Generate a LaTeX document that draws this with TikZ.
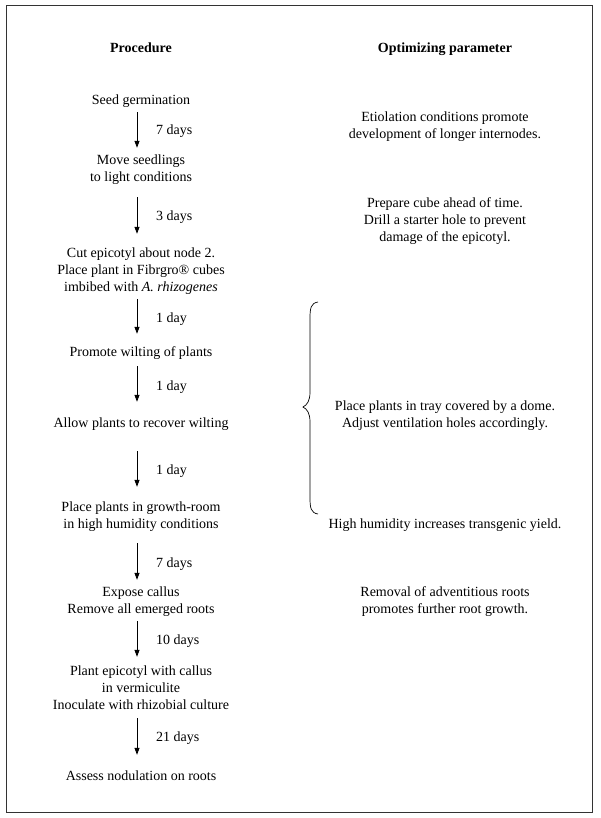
\documentclass[tikz,border=0pt]{standalone}
\usepackage{fontspec}
\setmainfont{Liberation Serif}
\usetikzlibrary{arrows.meta}
\begin{document}
\begin{tikzpicture}[x=1pt,y=-1pt,
  txt/.style={font=\fontsize{14}{17}\selectfont, inner sep=0pt, text height=9.6pt, text depth=3pt, anchor=base},
  hdr/.style={txt, font=\fontsize{14}{17}\selectfont\bfseries},
  day/.style={txt, anchor=base west},
  arr/.style={-{Triangle[length=7pt,width=5pt]}, line width=0.8pt},
  frame/.style={line width=0.9pt, black!80},
  bracepath/.style={line width=0.7pt},
]
\useasboundingbox (0,0) rectangle (600,818);
\draw[frame] (6,5) rectangle (592,812);

% headers
\node[hdr] (hp) at (141,52.5) {Procedure};
\node[hdr] (ho) at (445,52.5) {Optimizing parameter};

% procedure column
\node[txt] (s1)  at (141,104.5) {Seed germination};
\node[txt] (s2a) at (141,164.5) {Move seedlings};
\node[txt] (s2b) at (141,181.5) {to light conditions};
\node[txt] (s3a) at (141,257.5) {Cut epicotyl about node 2.};
\node[txt] (s3b) at (141,274.5) {Place plant in Fibrgro® cubes};
\node[txt] (s3c) at (141,291.5) {imbibed with \textit{A. rhizogenes}};
\node[txt] (s4)  at (141,356.5) {Promote wilting of plants};
\node[txt] (s5)  at (141,427.5) {Allow plants to recover wilting};
\node[txt] (s6a) at (141,511.5) {Place plants in growth-room};
\node[txt] (s6b) at (141,528.5) {in high humidity conditions};
\node[txt] (s7a) at (141,596.5) {Expose callus};
\node[txt] (s7b) at (141,613.5) {Remove all emerged roots};
\node[txt] (s8a) at (141,675.5) {Plant epicotyl with callus};
\node[txt] (s8b) at (141,692.5) {in vermiculite};
\node[txt] (s8c) at (141,709.5) {Inoculate with rhizobial culture};
\node[txt] (s9)  at (141,780.5) {Assess nodulation on roots};

% day labels
\node[day] (d1) at (156,134.5) {7 days};
\node[day] (d2) at (156,220.5) {3 days};
\node[day] (d3) at (156,322.5) {1 day};
\node[day] (d4) at (156,390.5) {1 day};
\node[day] (d5) at (156,474.5) {1 day};
\node[day] (d6) at (156,567.5) {7 days};
\node[day] (d7) at (156,644.5) {10 days};
\node[day] (d8) at (156,741.5) {21 days};

% arrows
\draw[arr, shorten <=4.5pt, shorten >=6.9pt] ([xshift=-4pt]s1.south) -- ([xshift=-4pt]s2a.north);
\draw[arr, shorten <=12.5pt, shorten >=13.9pt] ([xshift=-4pt]s2b.south) -- ([xshift=-4pt]s3a.north);
\draw[arr, shorten <=4.5pt, shorten >=12.9pt] ([xshift=-4pt]s3c.south) -- ([xshift=-4pt]s4.north);
\draw[arr, shorten <=6.5pt, shorten >=15.9pt] ([xshift=-4pt]s4.south) -- ([xshift=-4pt]s5.north);
\draw[arr, shorten <=20.5pt, shorten >=14.9pt] ([xshift=-4pt]s5.south) -- ([xshift=-4pt]s6a.north);
\draw[arr, shorten <=11.5pt, shorten >=6.9pt] ([xshift=-4pt]s6b.south) -- ([xshift=-4pt]s7a.north);
\draw[arr, shorten <=4.5pt, shorten >=8.9pt] ([xshift=-4pt]s7b.south) -- ([xshift=-4pt]s8a.north);
\draw[arr, shorten <=5.5pt, shorten >=15.9pt] ([xshift=-4pt]s8c.south) -- ([xshift=-4pt]s9.north);

% optimizing parameter column
\node[txt] (o1a) at (445,121.5) {Etiolation conditions promote};
\node[txt] (o1b) at (445,138.5) {development of longer internodes.};
\node[txt] (o2a) at (445,207.5) {Prepare cube ahead of time.};
\node[txt] (o2b) at (445,224.5) {Drill a starter hole to prevent};
\node[txt] (o2c) at (445,241.5) {damage of the epicotyl.};
\node[txt] (o3a) at (445,410.5) {Place plants in tray covered by a dome.};
\node[txt] (o3b) at (445,427.5) {Adjust ventilation holes accordingly.};
\node[txt] (o4)  at (445,528.5) {High humidity increases transgenic yield.};
\node[txt] (o5a) at (445,596.5) {Removal of adventitious roots};
\node[txt] (o5b) at (445,613.5) {promotes further root growth.};

% curly brace
\coordinate (bt) at (318,302);
\coordinate (bm) at (303,407);
\coordinate (bb) at (318,514);
\draw[bracepath] (bt) .. controls (311,303) and (310,308) .. (310,318)
  -- (310,392) .. controls (310,401) and (307,405) .. (bm)
  .. controls (307,409) and (310,413) .. (310,422)
  -- (310,498) .. controls (310,508) and (311,513) .. (bb);
\end{tikzpicture}
\end{document}
